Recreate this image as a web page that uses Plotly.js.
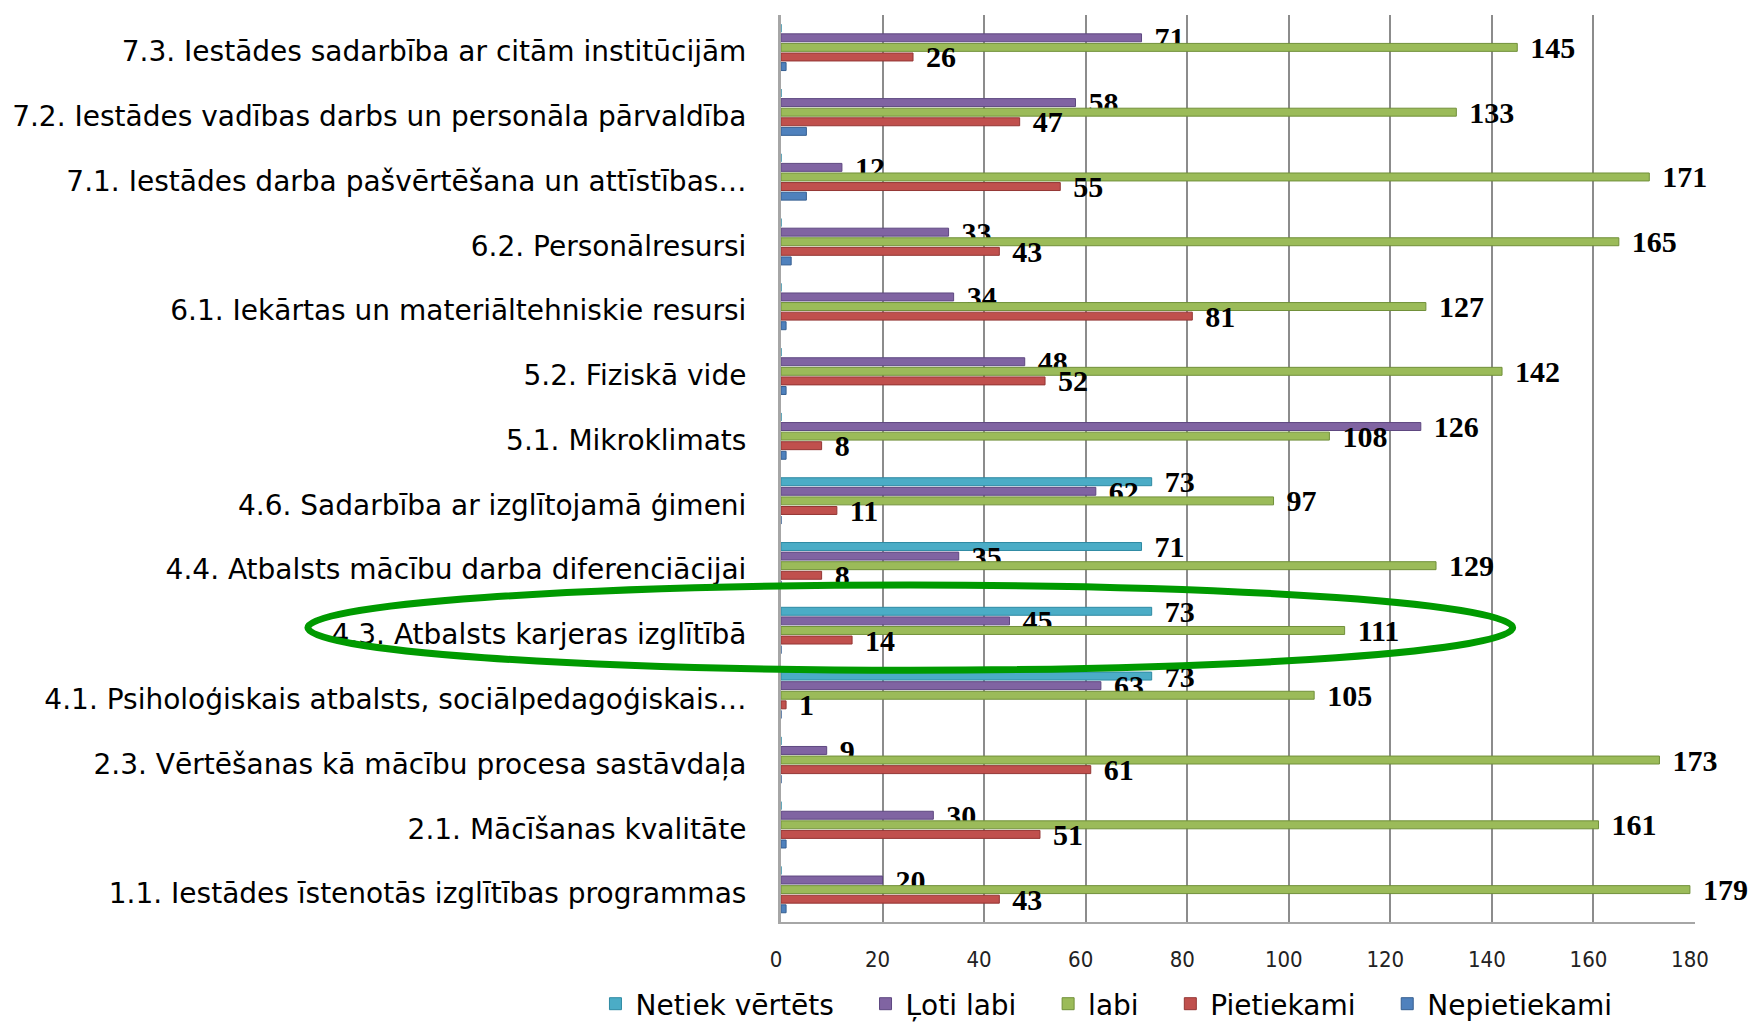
<!DOCTYPE html>
<html>
<head>
<meta charset="utf-8">
<script src="https://cdn.plot.ly/plotly-3.0.1.min.js"></script>
<style>html,body{margin:0;padding:0;background:#fff;}#chart{width:1752px;height:1025px;}</style>
</head>
<body>
<div id="chart"></div>
<script>
// Categories, top to bottom
const categories = [
  "7.3. Iestādes sadarbība ar citām institūcijām",
  "7.2. Iestādes vadības darbs un personāla pārvaldība",
  "7.1. Iestādes darba pašvērtēšana un attīstības…",
  "6.2. Personālresursi",
  "6.1. Iekārtas un materiāltehniskie resursi",
  "5.2. Fiziskā vide",
  "5.1. Mikroklimats",
  "4.6. Sadarbība ar izglītojamā ģimeni",
  "4.4. Atbalsts mācību darba diferenciācijai",
  "4.3. Atbalsts karjeras izglītībā",
  "4.1. Psiholoģiskais atbalsts, sociālpedagoģiskais…",
  "2.3. Vērtēšanas kā mācību procesa sastāvdaļa",
  "2.1. Mācīšanas kvalitāte",
  "1.1. Iestādes īstenotās izglītības programmas"
];
const seriesNames = ["Netiek vērtēts", "Ļoti labi", "labi", "Pietiekami", "Nepietiekami"];
const netiekVertets = [0, 0, 0, 0, 0, 0, 0, 73, 71, 73, 73, 0, 0, 0];
const lotiLabi      = [71, 58, 12, 33, 34, 48, 126, 62, 35, 45, 63, 9, 30, 20];
const labi          = [145, 133, 171, 165, 127, 142, 108, 97, 129, 111, 105, 173, 161, 179];
const pietiekami    = [26, 47, 55, 43, 81, 52, 8, 11, 8, 14, 1, 61, 51, 43];
const nepietiekami  = [1, 5, 5, 2, 1, 1, 1, 0, 0, 0, 0, 0, 1, 1];
const xTicks = [0, 20, 40, 60, 80, 100, 120, 140, 160, 180];

const seriesValues = [netiekVertets, lotiLabi, labi, pietiekami, nepietiekami];
const colors = ["#4BACC6", "#8064A2", "#9BBB59", "#C0504D", "#4F81BD"];
const lineColors = ["#2E8AA3", "#5E4880", "#71903A", "#943634", "#365F91"];
const showLabels = [true, true, true, true, false];
const legendPad = "\u00A0\u00A0\u00A0";

const traces = seriesValues.map((vals, i) => ({
  type: "bar",
  orientation: "h",
  name: seriesNames[i] + (i < seriesNames.length - 1 ? legendPad : ""),
  y: categories,
  x: vals,
  marker: { color: colors[i], line: { color: lineColors[i], width: 1 } },
  text: vals.map(v => (showLabels[i] && v) ? "\u2004" + v : ""),
  textposition: "outside",
  constraintext: "none",
  cliponaxis: false,
  textfont: { family: "Liberation Serif, Times New Roman, serif", size: 30, color: "#000", weight: "bold" },
  hoverinfo: "x+name"
}));

const layout = {
  width: 1752,
  height: 1025,
  paper_bgcolor: "#ffffff",
  plot_bgcolor: "#ffffff",
  margin: { l: 781, r: 57, t: 15, b: 103, autoexpand: false },
  barmode: "group",
  bargap: 0.26,
  bargroupgap: 0.17,
  showlegend: true,
  legend: {
    orientation: "h",
    x: -0.203, xanchor: "left", xref: "paper",
    y: -0.0904, yanchor: "middle", yref: "paper",
    font: { family: "DejaVu Sans, Verdana, sans-serif", size: 28, color: "#000" },
    itemwidth: 30,
    tracegroupgap: 0,
    bgcolor: "rgba(0,0,0,0)"
  },
  xaxis: {
    range: [0, 180],
    tickvals: xTicks,
    ticktext: xTicks.map(String),
    showgrid: true,
    gridcolor: "#8c8c8c",
    gridwidth: 2,
    zeroline: false,
    showline: true,
    linecolor: "#a6a6a6",
    linewidth: 2,
    ticks: "",
    ticklabelstandoff: 17,
    ticklabelshift: -5,
    tickfont: { family: "DejaVu Sans Condensed, DejaVu Sans, sans-serif", size: 22, color: "#222" },
    fixedrange: true
  },
  yaxis: {
    type: "category",
    autorange: "reversed",
    showgrid: false,
    zeroline: false,
    showline: true,
    linecolor: "#a6a6a6",
    linewidth: 3,
    ticks: "",
    ticklabelstandoff: 26,
    ticklabelshift: -4,
    tickfont: { family: "DejaVu Sans, Verdana, sans-serif", size: 28, color: "#000" },
    fixedrange: true
  },
  shapes: [{
    type: "circle",
    xref: "paper", yref: "paper",
    x0: -0.5176, x1: 0.8005,
    y0: 0.2776, y1: 0.3715,
    line: { color: "#009A00", width: 7 },
    fillcolor: "rgba(0,0,0,0)",
    layer: "above"
  }]
};

Plotly.newPlot("chart", traces, layout, { displayModeBar: false, staticPlot: true });
</script>
</body>
</html>
